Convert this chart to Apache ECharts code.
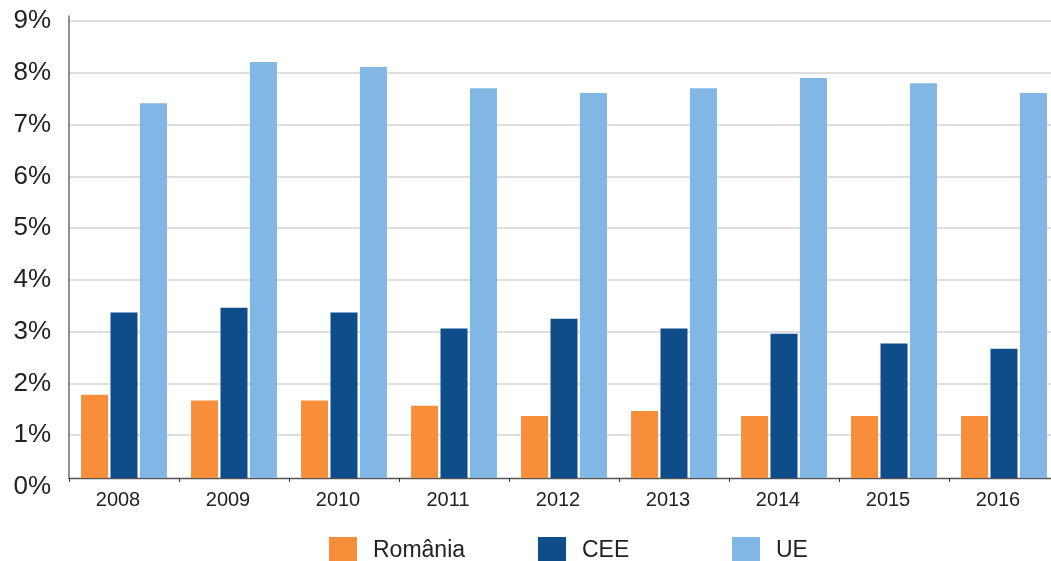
<!DOCTYPE html>
<html>
<head>
<meta charset="utf-8">
<script src="https://cdn.jsdelivr.net/npm/echarts@6/dist/echarts.min.js"></script>
<style>
  html, body { margin: 0; padding: 0; background: #fff; }
  #chart { width: 1051px; height: 561px; }
</style>
</head>
<body>
<div id="chart"></div>
<script>
// data
const years = ['2008', '2009', '2010', '2011', '2012', '2013', '2014', '2015', '2016']
const romania = [1.78, 1.67, 1.67, 1.57, 1.37, 1.47, 1.37, 1.37, 1.37]
const cee = [3.37, 3.46, 3.37, 3.06, 3.25, 3.06, 2.96, 2.77, 2.67]
const ue = [7.41, 8.21, 8.11, 7.70, 7.61, 7.70, 7.90, 7.80, 7.61]
const seriesNames = ['România', 'CEE', 'UE']
const colors = ['#F68E3A', '#0E4D8A', '#81B7E4']

const font = "'Liberation Sans', Arial, sans-serif"

// label grid spans 0%..9%; the bars' axis line sits a little above the 0% label
const gridTop = 21
const gridBottomPx = 487
const unit = (gridBottomPx - gridTop) / 9
const barTop = 16
const barBottomPx = 478
const valueAt = y => 9 - (y - gridTop) / unit
// the last category runs past the right edge of the picture
const plotWidth = 990

const chart = echarts.init(document.getElementById('chart'))

function legendFor(i, left) {
  return {
    data: [seriesNames[i]],
    left: left,
    top: 537,
    padding: 0,
    itemWidth: 28,
    itemHeight: 28,
    icon: 'rect',
    selectedMode: false,
    textStyle: { fontSize: 23, color: '#222', fontFamily: font, padding: [0, 0, 0, 11] }
  }
}

function barSeries(i, data) {
  return {
    name: seriesNames[i],
    type: 'bar',
    xAxisIndex: 1,
    yAxisIndex: 1,
    data: data,
    barWidth: 27,
    barGap: '9%',
    itemStyle: { color: colors[i] },
    clip: true,
    silent: true
  }
}

chart.setOption({
  animation: false,
  textStyle: { fontFamily: font },
  grid: [
    { left: 69, width: plotWidth, top: gridTop, height: gridBottomPx - gridTop, outerBoundsMode: 'none' },
    { left: 69, width: plotWidth, top: barTop, height: barBottomPx - barTop, outerBoundsMode: 'none' }
  ],
  legend: [legendFor(0, 329), legendFor(1, 538), legendFor(2, 732)],
  xAxis: [
    { type: 'category', gridIndex: 0, data: years, show: false },
    {
      type: 'category',
      gridIndex: 1,
      data: years,
      axisLine: { lineStyle: { color: '#555', width: 1.3 } },
      axisTick: { show: true, length: 4, lineStyle: { color: '#333', width: 1 } },
      axisLabel: { fontSize: 20, color: '#222', margin: 12, padding: [0, 12, 0, 0] }
    }
  ],
  yAxis: [
    {
      type: 'value',
      gridIndex: 0,
      min: 0,
      max: 9,
      interval: 1,
      axisLine: { show: false },
      axisTick: { show: false },
      axisLabel: { formatter: '{value}%', fontSize: 26, color: '#222', margin: 18 },
      splitLine: { show: true, showMinLine: false, lineStyle: { color: '#d4d4d4', width: 1.5 } }
    },
    {
      type: 'value',
      gridIndex: 1,
      min: valueAt(barBottomPx),
      max: valueAt(barTop),
      axisLine: { show: true, lineStyle: { color: '#6e6e6e', width: 1.5 } },
      axisTick: { show: false },
      axisLabel: { show: false },
      splitLine: { show: false }
    }
  ],
  series: [barSeries(0, romania), barSeries(1, cee), barSeries(2, ue)]
})
</script>
</body>
</html>
